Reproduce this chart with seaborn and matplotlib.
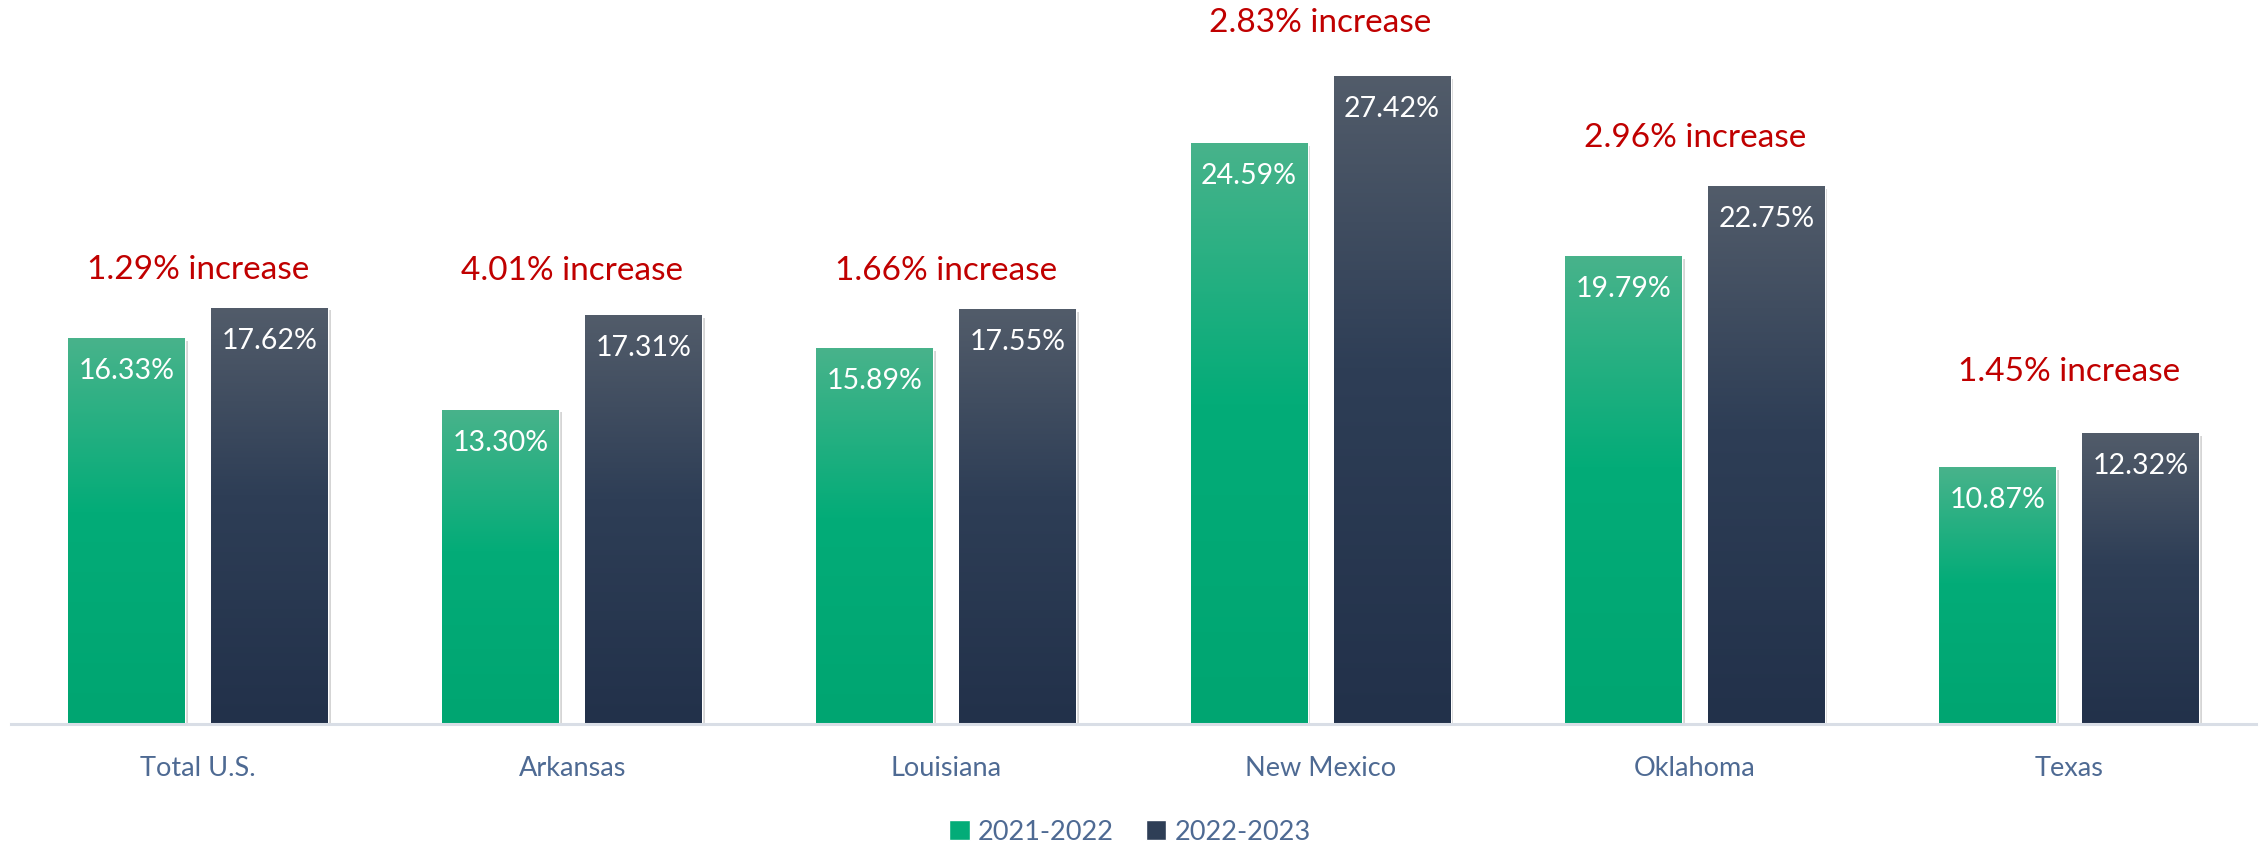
import numpy as np
import pandas as pd
import matplotlib
matplotlib.use("Agg")
import matplotlib.pyplot as plt
import matplotlib.patheffects as pe
from matplotlib.colors import LinearSegmentedColormap
from matplotlib.patches import Patch
import seaborn as sns

states = ["Total U.S.", "Arkansas", "Louisiana", "New Mexico", "Oklahoma", "Texas"]
periods = ["2021-2022", "2022-2023"]
rate_2122 = [16.33, 13.30, 15.89, 24.59, 19.79, 10.87]
rate_2223 = [17.62, 17.31, 17.55, 27.42, 22.75, 12.32]

# gap (pixels) between the taller bar and the red note, placed by hand in the original
note_gap_px = [38, 44, 38, 53, 48, 61]

df = pd.DataFrame({
    "state": states * 2,
    "period": [periods[0]] * len(states) + [periods[1]] * len(states),
    "rate": rate_2122 + rate_2223,
})

sns.set_theme(style="white")
plt.rcParams["font.family"] = ["Lato", "DejaVu Sans"]

text_col = "#4E6A93"
red = "#C00000"
green_stops = ["#00A571", "#03AC78", "#48B38B"]   # bottom -> top
dark_stops = ["#22314A", "#2E3E56", "#525C6A"]

fig = plt.figure(figsize=(22.6, 8.44), dpi=100)
ax = fig.add_axes([11 / 2260, 120 / 844, 2245 / 2260, 724 / 844])

sns.barplot(data=df, x="state", y="rate", hue="period", order=states,
            hue_order=periods, palette=[green_stops[1], dark_stops[1]],
            width=0.764, gap=0.182, legend=False, ax=ax)

grad = np.linspace(0, 1, 256).reshape(-1, 1)
for cont, stops in zip(ax.containers, [green_stops, dark_stops]):
    cmap = LinearSegmentedColormap.from_list("g", list(zip([0, 0.55, 1], stops)))
    for bar in cont:
        x0, w, h = bar.get_x(), bar.get_width(), bar.get_height()
        bar.set_path_effects([pe.SimplePatchShadow(offset=(2, -2), shadow_rgbFace="#888888", alpha=0.35),
                              pe.Normal()])
        im = ax.imshow(grad, extent=[x0, x0 + w, 0, h], origin="lower", aspect="auto",
                       cmap=cmap, zorder=2, interpolation="bilinear")
        im.set_clip_path(bar)
        ax.annotate(f"{h:.2f}%", (x0 + w / 2, h), xytext=(0, -33), textcoords="offset pixels",
                    ha="center", va="center", color="white", fontsize=20.5, zorder=4)

ax.set_xlim(-0.5, len(states) - 0.5)
ax.set_ylim(0, 30.63)

for i, (a, b) in enumerate(zip(rate_2122, rate_2223)):
    ax.annotate(f"{b - a:.2f}% increase", (i, max(a, b)), xytext=(0, note_gap_px[i]),
                textcoords="offset pixels", ha="center", va="center",
                color=red, fontsize=24, annotation_clip=False, zorder=4)

for s in ["left", "right", "top"]:
    ax.spines[s].set_visible(False)
ax.spines["bottom"].set_color("#D9DEE6")
ax.spines["bottom"].set_linewidth(2.2)
ax.set_yticks([])
ax.set_xlabel("")
ax.set_ylabel("")
ax.tick_params(axis="x", length=0, pad=23, labelsize=19.5, labelcolor=text_col)

handles = [Patch(facecolor=green_stops[1]), Patch(facecolor=dark_stops[1])]
fig.legend(handles, periods, loc="center", bbox_to_anchor=(0.5, 12 / 844), ncol=2,
           frameon=False, fontsize=19.5, labelcolor=text_col, handlelength=0.75,
           handleheight=0.75, handletextpad=0.3, columnspacing=1.2)

fig.savefig("out.png", dpi=100)
